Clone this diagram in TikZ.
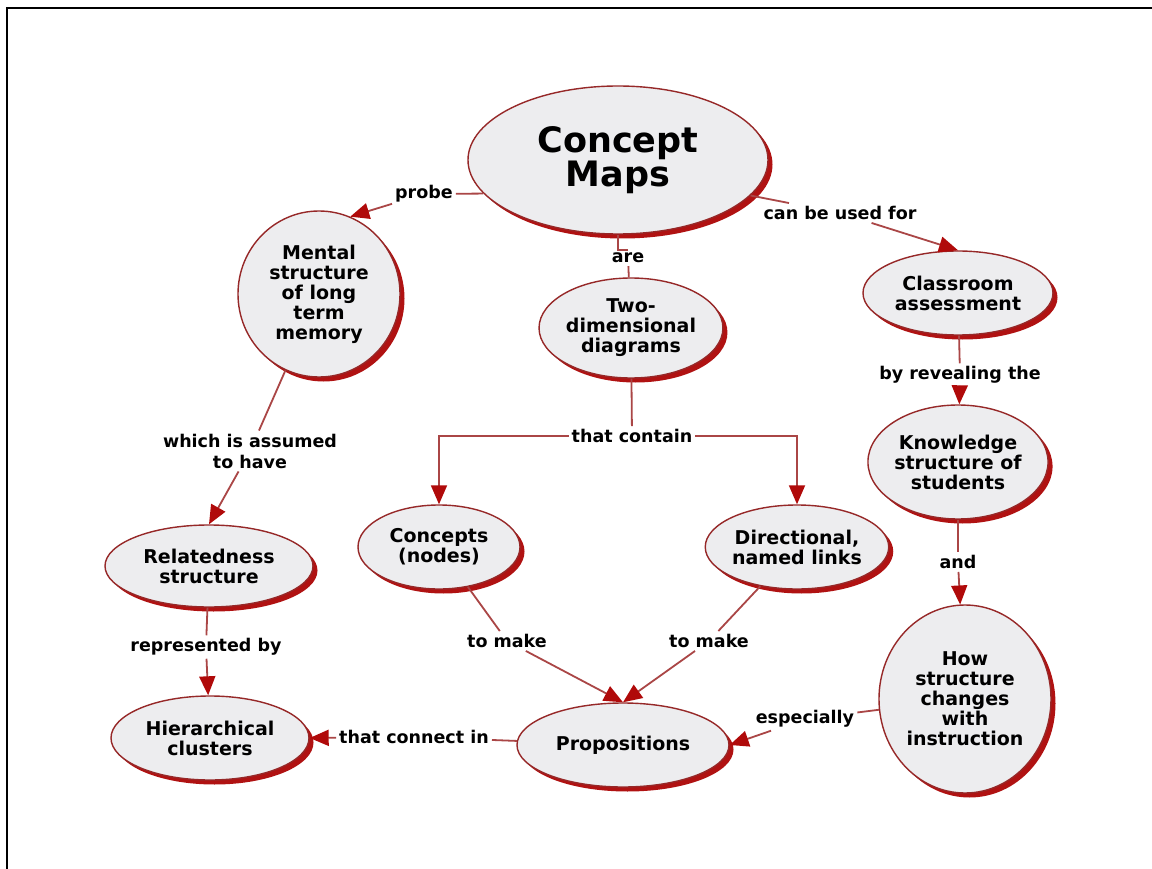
\documentclass[tikz,border=0pt]{standalone}
\usepackage{fontspec}
\setsansfont{DejaVu Sans}
\usetikzlibrary{shapes.geometric,shadows,arrows.meta}

\definecolor{nodegray}{HTML}{EDEDEF}
\definecolor{edgered}{HTML}{962828}
\definecolor{shadowred}{HTML}{B01212}
\definecolor{linkred}{HTML}{AA4646}
\definecolor{arrowred}{HTML}{B00A0A}

\newcommand\titlefont{\fontsize{35}{32}\selectfont\sffamily\bfseries}
\newcommand\nodefont{\fontsize{19}{20}\selectfont\sffamily\bfseries}
\newcommand\lblfont{\fontsize{17.5}{21}\selectfont\sffamily\bfseries}

\tikzset{
  cnode/.style={ellipse, draw=edgered, line width=1.4pt, fill=nodegray,
    inner sep=0pt, align=center, font=\nodefont,
    drop shadow={shadow xshift=4.5pt, shadow yshift=-4.5pt,
      fill=shadowred, opacity=1}},
  lbl/.style={font=\lblfont, inner sep=3pt, align=center},
  link/.style={draw=linkred, line width=1.8pt},
  arr/.style={link, -{Triangle[length=19pt,width=16pt,color=arrowred]}},
}

\begin{document}
\begin{tikzpicture}[x=1pt,y=-1pt]
\useasboundingbox (0,0) rectangle (1152,869);
\fill[white] (0,0) rectangle (1152,869);
\draw[black, line width=2.5pt] (7,869) -- (7,8) -- (1152,8);

% concepts
\node[cnode, minimum width=300pt, minimum height=148pt, font=\titlefont]
  (concept) at (618,160) {Concept\\Maps};
\node[cnode, minimum width=162pt, minimum height=166pt]
  (mental) at (319,294) {Mental\\structure\\of long\\term\\memory};
\node[cnode, minimum width=182pt, minimum height=100pt]
  (twod) at (631,328) {Two-\\dimensional\\diagrams};
\node[cnode, minimum width=190pt, minimum height=84pt]
  (classroom) at (958,293) {Classroom\\assessment};
\node[cnode, minimum width=180pt, minimum height=114pt]
  (knowledge) at (958,462) {Knowledge\\structure of\\students};
\node[cnode, minimum width=172pt, minimum height=188pt]
  (how) at (965,699) {How\\structure\\changes\\with\\instruction};
\node[cnode, minimum width=208pt, minimum height=82pt]
  (related) at (209,566) {Relatedness\\structure};
\node[cnode, minimum width=198pt, minimum height=84pt]
  (hier) at (210,738) {Hierarchical\\clusters};
\node[cnode, minimum width=162pt, minimum height=84pt]
  (concepts) at (439,547) {Concepts\\(nodes)};
\node[cnode, minimum width=174pt, minimum height=84pt]
  (direct) at (797,547) {Directional,\\named links};
\node[cnode, minimum width=212pt, minimum height=84pt]
  (props) at (623,745) {Propositions};

% linking phrases
\node[lbl] (probe)   at (424,194) {probe};
\node[lbl] (are)     at (628,258) {are};
\node[lbl] (cbuf)    at (840,213) {can be used for};
\node[lbl] (byrev)   at (960,375) {by revealing the};
\node[lbl] (and)     at (958,562) {and};
\node[lbl] (espec)   at (805,719) {especially};
\node[lbl] (assumed) at (250,451) {which is assumed\\to have};
\node[lbl] (repr)    at (206,647) {represented by};
\node[lbl] (connect) at (414,737) {that connect in};
\node[lbl] (contain) at (632,436) {that contain};
\node[lbl] (makeA)   at (507,641) {to make};
\node[lbl] (makeB)   at (709,641) {to make};

% links
\draw[link] (concept.194) -- (probe);
\draw[arr]  (probe) -- (mental.68);
\draw[link] (concept.south) |- (are.north);
\draw[link] (are) -- (twod);
\draw[link] (concept.-15) -- (cbuf);
\draw[arr]  (cbuf) -- (classroom.north);
\draw[link] (classroom) -- (byrev);
\draw[arr]  (byrev) -- (knowledge);
\draw[link] (knowledge) -- (and);
\draw[arr]  (and) -- (how);
\draw[link] (how) -- (espec);
\draw[arr]  (espec) -- (props.east);
\draw[link] (mental) -- (assumed);
\draw[arr]  (assumed) -- (related.north);
\draw[link] (related) -- (repr);
\draw[arr]  (repr) -- (hier);
\draw[link] (props) -- (connect);
\draw[arr]  (connect) -- (hier.east);
\draw[link] (twod) -- (contain);
\draw[arr]  (contain.west) -| (concepts.north);
\draw[arr]  (contain.east) -| (direct.north);
\draw[link] (concepts) -- (makeA);
\draw[arr]  (makeA) -- (props.north);
\draw[link] (direct) -- (makeB);
\draw[arr]  (makeB) -- (props.north);
\end{tikzpicture}
\end{document}
